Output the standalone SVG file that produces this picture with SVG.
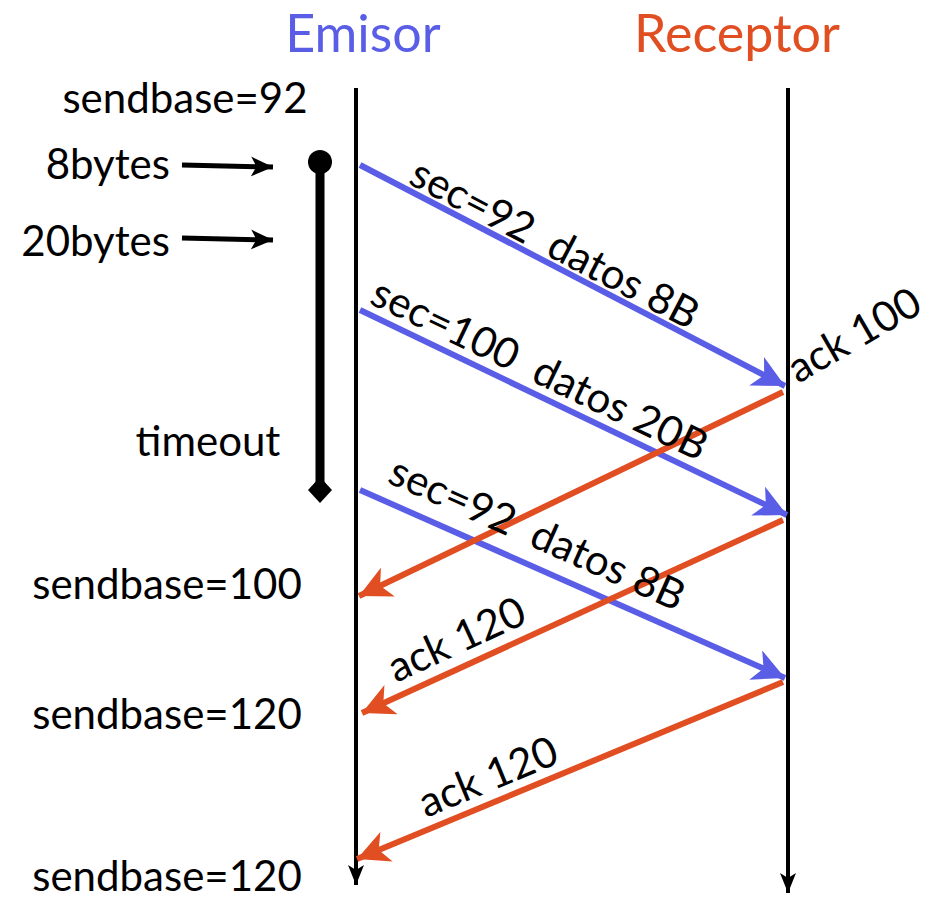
<svg xmlns="http://www.w3.org/2000/svg" width="950" height="901" viewBox="0 0 950 901">
<style>
text{font-family:"Lato","Open Sans","Liberation Sans",sans-serif;font-size:42px;fill:#000;white-space:pre}
.blue{stroke:#5a5de6;stroke-width:6;fill:none}
.red{stroke:#e04e22;stroke-width:6;fill:none}
.blk{stroke:#000;stroke-width:4;fill:none}
.ptr{stroke:#000;stroke-width:5;fill:none}
</style>
<defs>
<marker id="hr" viewBox="0 0 30 30" refX="30" refY="15" markerWidth="32" markerHeight="32" markerUnits="userSpaceOnUse" orient="auto">
<path d="M0,0 L30,15 L0,30 L8,15 Z" fill="#e04e22"/>
</marker>
<marker id="hB" viewBox="0 0 30 30" refX="30" refY="15" markerWidth="32" markerHeight="32" markerUnits="userSpaceOnUse" orient="auto">
<path d="M0,0 L30,15 L0,30 L8,15 Z" fill="#5a5de6"/>
</marker>
<marker id="hk" viewBox="0 0 20 20" refX="20" refY="10" markerWidth="20" markerHeight="20" markerUnits="userSpaceOnUse" orient="auto">
<path d="M0,2 L20,10 L0,18 L5,10 Z" fill="#000"/>
</marker>
<marker id="hp" viewBox="0 0 20 20" refX="20" refY="10" markerWidth="22" markerHeight="22" markerUnits="userSpaceOnUse" orient="auto">
<path d="M0,1 L20,10 L0,19 L5,10 Z" fill="#000"/>
</marker>
</defs>
<g id="emisor">
<text x="363" y="52" text-anchor="middle" style="font-size:52px;fill:#5a5de6">Emisor</text>
<line x1="356" y1="88" x2="356" y2="885" class="blk" marker-end="url(#hk)"/>
</g>
<g id="receptor">
<text x="737" y="52" text-anchor="middle" style="font-size:52px;fill:#e04e22">Receptor</text>
<line x1="788" y1="88" x2="788" y2="893" class="blk" marker-end="url(#hk)"/>
</g>
<g id="left-labels">
<text x="185" y="113" text-anchor="middle">sendbase=92</text>
<text x="170" y="179" text-anchor="end">8bytes</text>
<text x="170" y="256" text-anchor="end">20bytes</text>
<text x="208" y="456" text-anchor="middle">timeout</text>
<text x="167" y="599" text-anchor="middle">sendbase=100</text>
<text x="167" y="729" text-anchor="middle">sendbase=120</text>
<text x="167" y="891" text-anchor="middle">sendbase=120</text>
</g>
<g id="timer">
<line x1="320" y1="162" x2="320" y2="488" stroke="#000" stroke-width="9"/>
<circle cx="320" cy="162" r="12" fill="#000"/>
<path d="M320,477 L332,490 L320,503 L308,490 Z" fill="#000"/>
</g>
<g id="connectors">
<line x1="182" y1="165" x2="273" y2="167" class="ptr" marker-end="url(#hp)"/>
<line x1="182" y1="238" x2="273" y2="240" class="ptr" marker-end="url(#hp)"/>
<line x1="360" y1="165" x2="785" y2="386" class="blue" marker-end="url(#hB)"/>
<line x1="360" y1="310" x2="787" y2="515" class="blue" marker-end="url(#hB)"/>
<line x1="360" y1="490" x2="785" y2="678" class="blue" marker-end="url(#hB)"/>
<line x1="783" y1="392" x2="359" y2="596" class="red" marker-end="url(#hr)"/>
<line x1="783" y1="520" x2="362" y2="713" class="red" marker-end="url(#hr)"/>
<line x1="783" y1="682" x2="357" y2="859" class="red" marker-end="url(#hr)"/>
</g>
<g id="labels">
<text transform="translate(407,183) rotate(27.5)">sec=92  datos 8B</text>
<text transform="translate(368,303) rotate(25.6)">sec=100  datos 20B</text>
<text transform="translate(386,482) rotate(24)">sec=92  datos 8B</text>
<text transform="translate(798,384) rotate(-30)">ack 100</text>
<text transform="translate(396,683) rotate(-24.6)">ack 120</text>
<text transform="translate(426,818) rotate(-22.4)">ack 120</text>
</g>
</svg>
